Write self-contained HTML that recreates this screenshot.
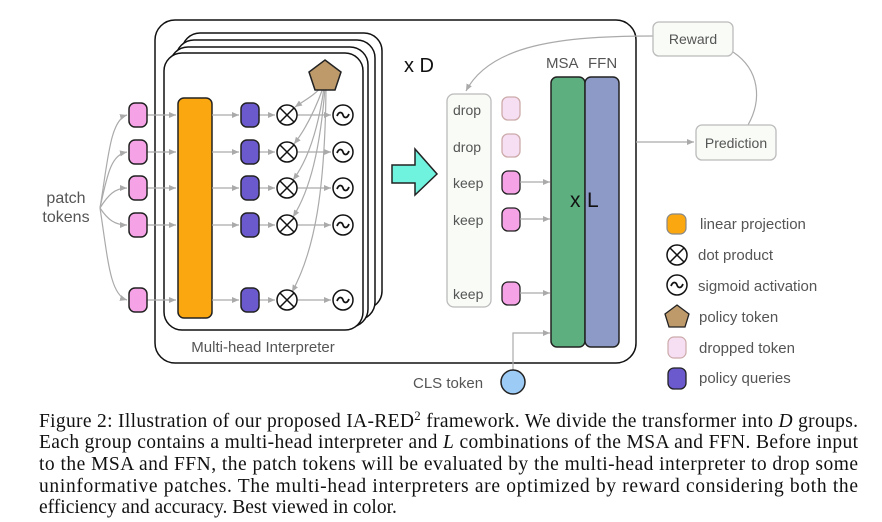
<!DOCTYPE html>
<html><head><meta charset="utf-8"><style>
body{margin:0;background:#fff}
svg{display:block}
.g{font-family:"Liberation Sans",sans-serif;fill:#555}
.c{font-family:"Liberation Serif",serif;font-size:19.5px;fill:#111}
</style></head><body>
<svg width="882" height="522" viewBox="0 0 882 522" xmlns="http://www.w3.org/2000/svg">
<defs>
<marker id="a" markerWidth="8" markerHeight="8" refX="7" refY="4" orient="auto" markerUnits="userSpaceOnUse"><path d="M0,1 L7,4 L0,7 z" fill="#aaa"/></marker>
<g id="ot"><circle r="10" fill="#fff" stroke="#111" stroke-width="1.5"/><path d="M-7,-7 L7,7 M7,-7 L-7,7" stroke="#111" stroke-width="1.5"/></g>
<g id="sg"><circle r="10" fill="#fff" stroke="#111" stroke-width="1.5"/><path d="M-6,1 C-4,-4 -1,-3 0,0 C1,3 4,4 6,-1" fill="none" stroke="#111" stroke-width="1.8"/></g>
</defs>
<!-- outer box -->
<rect x="155" y="20" width="481" height="343" rx="20" fill="#fff" stroke="#111" stroke-width="1.5"/>
<!-- stacked cards -->
<rect x="182" y="33" width="200" height="276" rx="18" fill="#fff" stroke="#111" stroke-width="1.5"/>
<rect x="176" y="40" width="199" height="280" rx="18" fill="#fff" stroke="#111" stroke-width="1.5"/>
<rect x="170" y="47" width="198" height="280" rx="18" fill="#fff" stroke="#111" stroke-width="1.5"/>
<rect x="164" y="53" width="199" height="277" rx="18" fill="#fff" stroke="#111" stroke-width="1.5"/>
<text class="g" x="263" y="352" font-size="15" text-anchor="middle" fill="#666">Multi-head Interpreter</text>
<text x="404" y="72" font-family="Liberation Sans,sans-serif" font-size="20" fill="#111">x D</text>
<!-- patch tokens -->
<text class="g" x="66" y="203" font-size="16" text-anchor="middle" fill="#666">patch</text>
<text class="g" x="66" y="222" font-size="16" text-anchor="middle" fill="#666">tokens</text>
<g fill="none" stroke="#aaa" stroke-width="1.2">
<path d="M100,208 C108,160 110,120 127,115" marker-end="url(#a)"/>
<path d="M100,208 C108,170 112,155 127,152" marker-end="url(#a)"/>
<path d="M100,208 C108,195 115,188 127,188" marker-end="url(#a)"/>
<path d="M100,208 C108,220 115,225 127,225" marker-end="url(#a)"/>
<path d="M100,208 C108,260 110,295 127,300" marker-end="url(#a)"/>
</g>
<rect x="178" y="98" width="34" height="220" rx="6" fill="#FBA70F" stroke="#222" stroke-width="1.5"/>
<g id="rows"></g>
<!-- rows -->
<g stroke="#aaa" stroke-width="1.2" fill="none">
<path d="M147,115 H176" marker-end="url(#a)"/><path d="M147,152 H176" marker-end="url(#a)"/><path d="M147,188 H176" marker-end="url(#a)"/><path d="M147,225 H176" marker-end="url(#a)"/><path d="M147,300 H176" marker-end="url(#a)"/>
<path d="M212,115 H239" marker-end="url(#a)"/><path d="M212,152 H239" marker-end="url(#a)"/><path d="M212,188 H239" marker-end="url(#a)"/><path d="M212,225 H239" marker-end="url(#a)"/><path d="M212,300 H239" marker-end="url(#a)"/>
<path d="M259,115 H275" marker-end="url(#a)"/><path d="M259,152 H275" marker-end="url(#a)"/><path d="M259,188 H275" marker-end="url(#a)"/><path d="M259,225 H275" marker-end="url(#a)"/><path d="M259,300 H275" marker-end="url(#a)"/>
<path d="M297,115 H331" marker-end="url(#a)"/><path d="M297,152 H331" marker-end="url(#a)"/><path d="M297,188 H331" marker-end="url(#a)"/><path d="M297,225 H331" marker-end="url(#a)"/><path d="M297,300 H331" marker-end="url(#a)"/>
<path d="M322,86 C315,95 305,100 295,107" marker-end="url(#a)"/>
<path d="M323,88 C315,110 305,130 294,144" marker-end="url(#a)"/>
<path d="M324,88 C318,130 308,160 293,180" marker-end="url(#a)"/>
<path d="M325,88 C320,150 310,190 293,217" marker-end="url(#a)"/>
<path d="M326,88 C325,190 315,250 292,292" marker-end="url(#a)"/>
</g>
<g fill="#F5A3E6" stroke="#222" stroke-width="1.5">
<rect x="129" y="103" width="18" height="24" rx="6"/><rect x="129" y="140" width="18" height="24" rx="6"/><rect x="129" y="176" width="18" height="24" rx="6"/><rect x="129" y="213" width="18" height="24" rx="6"/><rect x="129" y="288" width="18" height="24" rx="6"/>
</g>
<g fill="#6A5ACD" stroke="#222" stroke-width="1.5">
<rect x="241" y="103" width="18" height="24" rx="6"/><rect x="241" y="140" width="18" height="24" rx="6"/><rect x="241" y="176" width="18" height="24" rx="6"/><rect x="241" y="213" width="18" height="24" rx="6"/><rect x="241" y="288" width="18" height="24" rx="6"/>
</g>
<use href="#ot" x="287" y="115"/><use href="#ot" x="287" y="152"/><use href="#ot" x="287" y="188"/><use href="#ot" x="287" y="225"/><use href="#ot" x="287" y="300"/>
<use href="#sg" x="343" y="115"/><use href="#sg" x="343" y="152"/><use href="#sg" x="343" y="188"/><use href="#sg" x="343" y="225"/><use href="#sg" x="343" y="300"/>
<polygon points="325,60 341,72 335,90 315,90 309,72" fill="#BE9A6A" stroke="#222" stroke-width="1.5"/>
<!-- cyan arrow -->
<polygon points="392,165 415,165 415,149 437,174 415,195 415,183 392,183" fill="#6FF3DF" stroke="#222" stroke-width="1.5"/>
<!-- drop/keep box -->
<rect x="447" y="94" width="44" height="213" rx="7" fill="#F8FBF6" stroke="#bbb" stroke-width="1.3"/>
<g class="g" font-size="14" fill="#555">
<text x="453" y="115">drop</text><text x="453" y="152">drop</text><text x="453" y="188">keep</text><text x="453" y="225">keep</text><text x="453" y="299">keep</text>
</g>
<g stroke-width="1.3">
<rect x="502" y="97" width="18" height="23" rx="6" fill="#F7DFF3" stroke="#caa"/>
<rect x="502" y="134" width="18" height="23" rx="6" fill="#F7DFF3" stroke="#caa"/>
<rect x="502" y="171" width="18" height="23" rx="6" fill="#F5A3E6" stroke="#222"/>
<rect x="502" y="208" width="18" height="23" rx="6" fill="#F5A3E6" stroke="#222"/>
<rect x="502" y="282" width="18" height="23" rx="6" fill="#F5A3E6" stroke="#222"/>
</g>
<g stroke="#aaa" stroke-width="1.2" fill="none">
<path d="M520,182 H550" marker-end="url(#a)"/><path d="M520,219 H550" marker-end="url(#a)"/><path d="M520,293 H550" marker-end="url(#a)"/>
<path d="M513,370 V333 H550" marker-end="url(#a)"/>
<path d="M636,142 H694" marker-end="url(#a)"/>
<path d="M653,36 C560,36 490,45 466,91" marker-end="url(#a)"/>
<path d="M733,52 C760,70 762,100 748,125"/>
</g>
<rect x="551" y="77" width="34" height="270" rx="6" fill="#5DAF80" stroke="#222" stroke-width="1.5"/>
<rect x="585" y="77" width="34" height="270" rx="6" fill="#8D99C6" stroke="#222" stroke-width="1.5"/>
<text class="g" x="546" y="68" font-size="15" fill="#555">MSA</text>
<text class="g" x="588" y="68" font-size="15" fill="#555">FFN</text>
<text x="570" y="207" font-family="Liberation Sans,sans-serif" font-size="21" fill="#111">x</text>
<text x="587" y="207" font-family="Liberation Sans,sans-serif" font-size="21" fill="#111">L</text>
<rect x="653" y="22" width="80" height="34" rx="6" fill="#F8FBF6" stroke="#bbb" stroke-width="1.3"/>
<text class="g" x="693" y="44" font-size="14" text-anchor="middle">Reward</text>
<rect x="696" y="125" width="80" height="35" rx="6" fill="#F8FBF6" stroke="#bbb" stroke-width="1.3"/>
<text class="g" x="736" y="148" font-size="14" text-anchor="middle">Prediction</text>
<!-- CLS -->
<text class="g" x="413" y="388" font-size="15">CLS token</text>
<circle cx="513" cy="382" r="12" fill="#9CCBF5" stroke="#222" stroke-width="1.5"/>
<!-- legend -->
<rect x="667" y="214" width="19" height="20" rx="6" fill="#FBA70F" stroke="#888" stroke-width="1.2"/>
<use href="#ot" x="677" y="255"/>
<use href="#sg" x="677" y="285"/>
<polygon points="677,305 689,314 685,327 669,327 665,314" fill="#BE9A6A" stroke="#222" stroke-width="1.3"/>
<rect x="668" y="337" width="18" height="21" rx="6" fill="#F7DFF3" stroke="#caa" stroke-width="1.2"/>
<rect x="668" y="368" width="18" height="21" rx="6" fill="#6A5ACD" stroke="#222" stroke-width="1.3"/>
<g class="g" font-size="15" fill="#555">
<text x="700" y="229">linear projection</text>
<text x="698" y="260">dot product</text>
<text x="698" y="291">sigmoid activation</text>
<text x="699" y="322">policy token</text>
<text x="699" y="353">dropped token</text>
<text x="699" y="383">policy queries</text>
</g>
<!-- caption -->
<text class="c" x="39" y="427" textLength="819" lengthAdjust="spacing">Figure 2: Illustration of our proposed IA-RED<tspan dy="-7" font-size="13">2</tspan><tspan dy="7"> framework. We divide the transformer into </tspan><tspan font-style="italic">D</tspan> groups.</text>
<text class="c" x="39" y="448" textLength="819" lengthAdjust="spacing">Each group contains a multi-head interpreter and <tspan font-style="italic">L</tspan> combinations of the MSA and FFN. Before input</text>
<text class="c" x="39" y="470" textLength="819" lengthAdjust="spacing">to the MSA and FFN, the patch tokens will be evaluated by the multi-head interpreter to drop some</text>
<text class="c" x="39" y="492" textLength="819" lengthAdjust="spacing">uninformative patches. The multi-head interpreters are optimized by reward considering both the</text>
<text class="c" x="39" y="513">efficiency and accuracy. Best viewed in color.</text>
</svg>
</body></html>
